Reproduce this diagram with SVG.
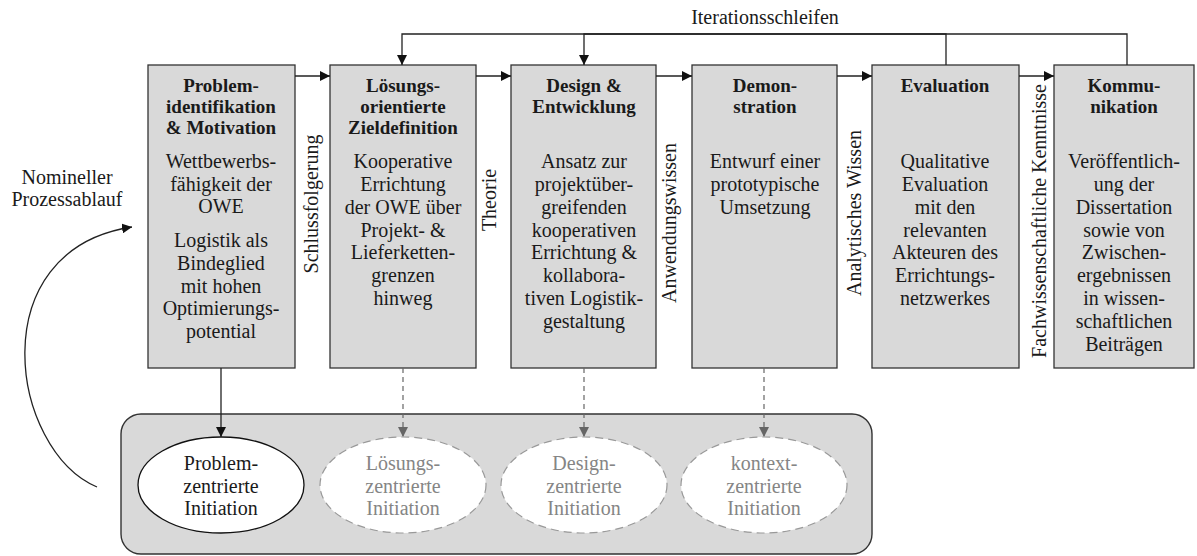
<svg xmlns="http://www.w3.org/2000/svg" width="1197" height="556" viewBox="0 0 1197 556">
  <style>
    .box { fill: #d9d9d9; stroke: #333; stroke-width: 1.3; }
    .pool { fill: #d9d9d9; stroke: #333; stroke-width: 1.4; }
    .t { font-family: "Liberation Serif", "Times New Roman", serif; font-size: 20px; fill: #1a1a1a; text-anchor: middle; }
    .h { font-weight: bold; font-size: 19px; }
    .lbl { font-family: "Liberation Serif", "Times New Roman", serif; font-size: 20px; fill: #1a1a1a; }
    .conn { stroke: #222; stroke-width: 1.3; fill: none; }
    .dash { stroke: #666; stroke-width: 1.2; stroke-dasharray: 5 4; fill: none; }
    .ell { fill: #fff; stroke: #111; stroke-width: 1.3; }
    .ell-d { fill: #fff; stroke: #999; stroke-width: 1.2; stroke-dasharray: 8 5; }
    .muted { fill: #858585; }
  </style>
  <defs>
    <marker id="arr" viewBox="0 0 10 10" refX="10" refY="5" markerWidth="10" markerHeight="10" markerUnits="userSpaceOnUse" orient="auto">
      <path d="M0,0 L10,5 L0,10 z" fill="#111"/>
    </marker>
    <marker id="arr-g" viewBox="0 0 10 10" refX="10" refY="5" markerWidth="10" markerHeight="10" markerUnits="userSpaceOnUse" orient="auto">
      <path d="M0,0 L10,5 L0,10 z" fill="#666"/>
    </marker>
  </defs>

  <rect width="1197" height="556" fill="#fff"/>

  <!-- container for the initiation entry points -->
  <g id="initiation-pool">
    <rect class="pool" x="121" y="414" width="751" height="140" rx="20" ry="20"/>
  </g>

  <!-- process steps -->
  <g id="step-problem">
    <rect class="box" x="148" y="65" width="147" height="303"/>
    <text class="t h"><tspan x="221" y="92">Problem-</tspan><tspan x="221" y="113">identifikation</tspan><tspan x="221" y="134">&amp; Motivation</tspan></text>
    <text class="t"><tspan x="221" y="168">Wettbewerbs-</tspan><tspan x="221" y="191">fähigkeit der</tspan><tspan x="221" y="213">OWE</tspan><tspan x="221" y="247">Logistik als</tspan><tspan x="221" y="270">Bindeglied</tspan><tspan x="221" y="293">mit hohen</tspan><tspan x="221" y="315">Optimierungs-</tspan><tspan x="221" y="338">potential</tspan></text>
  </g>

  <g id="step-ziel">
    <rect class="box" x="330" y="65" width="146" height="303"/>
    <text class="t h"><tspan x="403" y="92">Lösungs-</tspan><tspan x="403" y="113">orientierte</tspan><tspan x="403" y="134">Zieldefinition</tspan></text>
    <text class="t"><tspan x="403" y="168">Kooperative</tspan><tspan x="403" y="191">Errichtung</tspan><tspan x="403" y="214">der OWE über</tspan><tspan x="403" y="237">Projekt- &amp;</tspan><tspan x="403" y="259">Lieferketten-</tspan><tspan x="403" y="282">grenzen</tspan><tspan x="403" y="305">hinweg</tspan></text>
  </g>

  <g id="step-design">
    <rect class="box" x="511" y="65" width="145" height="303"/>
    <text class="t h"><tspan x="584" y="92">Design &amp;</tspan><tspan x="584" y="113">Entwicklung</tspan></text>
    <text class="t"><tspan x="584" y="168">Ansatz zur</tspan><tspan x="584" y="191">projektüber-</tspan><tspan x="584" y="214">greifenden</tspan><tspan x="584" y="237">kooperativen</tspan><tspan x="584" y="259">Errichtung &amp;</tspan><tspan x="584" y="282">kollabora-</tspan><tspan x="584" y="305">tiven Logistik-</tspan><tspan x="584" y="328">gestaltung</tspan></text>
  </g>

  <g id="step-demo">
    <rect class="box" x="692" y="65" width="145" height="303"/>
    <text class="t h"><tspan x="765" y="92">Demon-</tspan><tspan x="765" y="113">stration</tspan></text>
    <text class="t"><tspan x="765" y="168">Entwurf einer</tspan><tspan x="765" y="191">prototypische</tspan><tspan x="765" y="214">Umsetzung</tspan></text>
  </g>

  <g id="step-eval">
    <rect class="box" x="872" y="65" width="147" height="303"/>
    <text class="t h"><tspan x="945" y="92">Evaluation</tspan></text>
    <text class="t"><tspan x="945" y="168">Qualitative</tspan><tspan x="945" y="191">Evaluation</tspan><tspan x="945" y="214">mit den</tspan><tspan x="945" y="237">relevanten</tspan><tspan x="945" y="259">Akteuren des</tspan><tspan x="945" y="282">Errichtungs-</tspan><tspan x="945" y="305">netzwerkes</tspan></text>
  </g>

  <g id="step-komm">
    <rect class="box" x="1054" y="65" width="140" height="303"/>
    <text class="t h"><tspan x="1124" y="92">Kommu-</tspan><tspan x="1124" y="113">nikation</tspan></text>
    <text class="t"><tspan x="1124" y="168">Veröffentlich-</tspan><tspan x="1124" y="191">ung der</tspan><tspan x="1124" y="214">Dissertation</tspan><tspan x="1124" y="237">sowie von</tspan><tspan x="1124" y="259">Zwischen-</tspan><tspan x="1124" y="282">ergebnissen</tspan><tspan x="1124" y="305">in wissen-</tspan><tspan x="1124" y="328">schaftlichen</tspan><tspan x="1124" y="351">Beiträgen</tspan></text>
  </g>

  <!-- entry points -->
  <g id="init-problem">
    <ellipse class="ell" cx="221" cy="485" rx="83" ry="48"/>
    <text class="t"><tspan x="221" y="470">Problem-</tspan><tspan x="221" y="493">zentrierte</tspan><tspan x="221" y="515">Initiation</tspan></text>
  </g>
  <g id="init-loesung">
    <ellipse class="ell-d" cx="403" cy="485" rx="83" ry="48"/>
    <text class="t muted"><tspan x="403" y="470">Lösungs-</tspan><tspan x="403" y="493">zentrierte</tspan><tspan x="403" y="515">Initiation</tspan></text>
  </g>
  <g id="init-design">
    <ellipse class="ell-d" cx="584" cy="485" rx="83" ry="48"/>
    <text class="t muted"><tspan x="584" y="470">Design-</tspan><tspan x="584" y="493">zentrierte</tspan><tspan x="584" y="515">Initiation</tspan></text>
  </g>
  <g id="init-kontext">
    <ellipse class="ell-d" cx="764" cy="485" rx="83" ry="48"/>
    <text class="t muted"><tspan x="764" y="470">kontext-</tspan><tspan x="764" y="493">zentrierte</tspan><tspan x="764" y="515">Initiation</tspan></text>
  </g>

  <!-- connectors -->
  <g id="connectors">
    <!-- main sequence -->
    <line class="conn" x1="295" y1="76" x2="330" y2="76" marker-end="url(#arr)"/>
    <line class="conn" x1="476" y1="76" x2="511" y2="76" marker-end="url(#arr)"/>
    <line class="conn" x1="656" y1="76" x2="692" y2="76" marker-end="url(#arr)"/>
    <line class="conn" x1="837" y1="76" x2="872" y2="76" marker-end="url(#arr)"/>
    <line class="conn" x1="1019" y1="76" x2="1054" y2="76" marker-end="url(#arr)"/>
    <!-- iteration loops -->
    <path class="conn" d="M1127,65 V34 H402 V65" marker-end="url(#arr)"/>
    <path class="conn" d="M946,65 V34 H584 V65" marker-end="url(#arr)"/>
    <!-- entry points -->
    <line class="conn" x1="221" y1="368" x2="221" y2="437" marker-end="url(#arr)"/>
    <line class="dash" x1="403" y1="368" x2="403" y2="437" marker-end="url(#arr-g)"/>
    <line class="dash" x1="584" y1="368" x2="584" y2="437" marker-end="url(#arr-g)"/>
    <line class="dash" x1="764" y1="368" x2="764" y2="437" marker-end="url(#arr-g)"/>
    <!-- nominal flow -->
    <path class="conn" d="M97,487 C10,450 -20,250 132,227" marker-end="url(#arr)"/>
  </g>

  <!-- flow labels -->
  <g id="labels">
    <text class="lbl" x="765" y="24" text-anchor="middle" font-size="21">Iterationsschleifen</text>
    <text class="lbl" text-anchor="middle"><tspan x="67" y="184">Nomineller</tspan><tspan x="67" y="206">Prozessablauf</tspan></text>
    <text class="lbl" text-anchor="middle" transform="translate(318,204) rotate(-90)">Schlussfolgerung</text>
    <text class="lbl" text-anchor="middle" transform="translate(496,200) rotate(-90)">Theorie</text>
    <text class="lbl" text-anchor="middle" transform="translate(676,223) rotate(-90)">Anwendungswissen</text>
    <text class="lbl" text-anchor="middle" transform="translate(861,213) rotate(-90)">Analytisches Wissen</text>
    <text class="lbl" text-anchor="middle" transform="translate(1046,221) rotate(-90)">Fachwissenschaftliche Kenntnisse</text>
  </g>
</svg>
